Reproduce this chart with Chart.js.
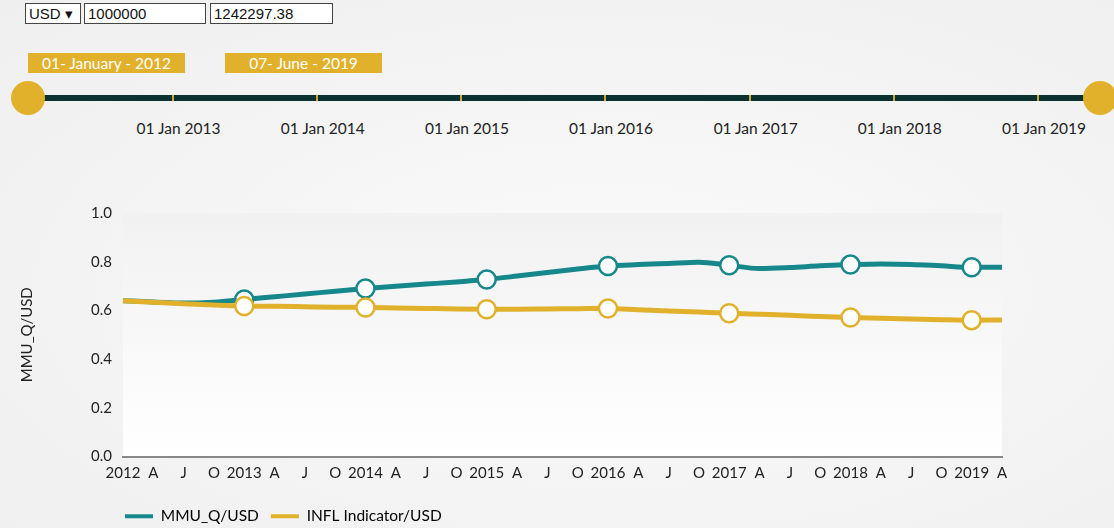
<!DOCTYPE html>
<html>
<head>
<meta charset="utf-8">
<script src="https://cdn.jsdelivr.net/npm/chart.js@4.4.1/dist/chart.umd.min.js"></script>
<style>
  html, body { margin: 0; padding: 0; }
  body {
    width: 1114px; height: 528px; overflow: hidden; position: relative;
    background: radial-gradient(ellipse at 55% 55%, #fbfbfb 0%, #f3f3f3 60%, #efefef 100%);
    font-family: Lato, "Open Sans", sans-serif;
  }
  .ctl { position: absolute; top: 3px; height: 19px; border: 1px solid #444; background: #fff;
         font-family: "Liberation Sans", Arial, sans-serif; font-size: 15px; line-height: 19px;
         color: #111; padding-left: 3px; box-sizing: content-box; }
  .datebox { position: absolute; top: 53px; height: 20px; width: 157px; background: #e2b12b;
             color: #fff; font-size: 15.5px; line-height: 20px; text-align: center; }
  #track { position: absolute; left: 28px; top: 95px; height: 6px; background: #0c3131; }
  .knob { position: absolute; width: 34px; height: 34px; border-radius: 50%; background: #e2b12b; top: 81px; }
  .tl-tick { position: absolute; top: 95px; width: 2px; height: 6px; background: #c9a93a; }
  .tl-label { position: absolute; top: 119px; font-size: 15.5px; color: #222; transform: translateX(-50%); white-space: nowrap; }
  #wrap { position: absolute; left: 0; top: 150px; width: 1114px; height: 378px; }
</style>
</head>
<body>
<div class="ctl" style="left:25px;width:51px;">USD &#9662;</div>
<div class="ctl" style="left:84px;width:117px;">1000000</div>
<div class="ctl" style="left:210px;width:118px;">1242297.38</div>
<div class="datebox" style="left:28px;">01- January - 2012</div>
<div class="datebox" style="left:225px;">07- June - 2019</div>
<div id="timeline"></div>
<div id="wrap"><canvas id="c" width="1114" height="378"></canvas></div>
<script>
// ---- data ----
const quarterLabels = ["2012","A","J","O","2013","A","J","O","2014","A","J","O","2015","A","J","O",
                       "2016","A","J","O","2017","A","J","O","2018","A","J","O","2019","A"];
const mmuValues  = [0.640,0.635,0.630,0.634,0.645,0.656,0.667,0.679,0.690,0.699,0.708,0.717,0.727,0.741,0.756,0.770,
                    0.782,0.788,0.793,0.798,0.785,0.772,0.776,0.783,0.788,0.791,0.789,0.783,0.777,0.777];
const inflValues = [0.640,0.633,0.627,0.622,0.618,0.617,0.615,0.613,0.612,0.610,0.608,0.606,0.605,0.605,0.606,0.607,
                    0.608,0.603,0.598,0.593,0.588,0.584,0.580,0.575,0.571,0.568,0.565,0.562,0.560,0.561];
const seriesNames = ["MMU_Q/USD", "INFL Indicator/USD"];
const seriesColors = ["#16878a", "#e2b12b"];
const yTicks = [0, 0.2, 0.4, 0.6, 0.8, 1.0];
const timelineStart = "2012-01-01";
const timelineEnd = "2019-06-07";
const timelineTicks = ["2013-01-01","2014-01-01","2015-01-01","2016-01-01","2017-01-01","2018-01-01","2019-01-01"];
const timelineTickLabels = ["01 Jan 2013","01 Jan 2014","01 Jan 2015","01 Jan 2016","01 Jan 2017","01 Jan 2018","01 Jan 2019"];

// ---- timeline slider (UI) ----
(function () {
  const tl = document.getElementById('timeline');
  const x0 = 28, x1 = 1100;
  const t0 = Date.parse(timelineStart), t1 = Date.parse(timelineEnd);
  const pos = d => x0 + (Date.parse(d) - t0) / (t1 - t0) * (x1 - x0);
  const track = document.createElement('div');
  track.id = 'track'; track.style.width = (x1 - x0) + 'px'; tl.appendChild(track);
  timelineTicks.forEach((d, i) => {
    const x = pos(d);
    const t = document.createElement('div'); t.className = 'tl-tick'; t.style.left = (x - 1) + 'px'; tl.appendChild(t);
    const l = document.createElement('div'); l.className = 'tl-label'; l.style.left = (x + 6) + 'px';
    l.textContent = timelineTickLabels[i]; tl.appendChild(l);
  });
  [x0, x1].forEach(x => {
    const k = document.createElement('div'); k.className = 'knob'; k.style.left = (x - 17) + 'px'; tl.appendChild(k);
  });
})();

// ---- chart ----
const isYear = l => /^\d{4}$/.test(l);
const radii = quarterLabels.map((l, i) => (isYear(l) && i > 0) ? 9 : 0);

const plotBg = {
  id: 'plotBg',
  beforeDraw(chart) {
    const {ctx, chartArea: a} = chart;
    const g = ctx.createLinearGradient(0, a.top, 0, a.bottom);
    g.addColorStop(0, '#f1f1f1');
    g.addColorStop(1, '#ffffff');
    ctx.save(); ctx.fillStyle = g; ctx.fillRect(a.left, a.top, a.right - a.left, a.bottom - a.top); ctx.restore();
  }
};
const legendShift = {
  id: 'legendShift',
  afterLayout(chart) {
    const L = chart.legend;
    L.left = 113; L.right = L.left + L.width;
    L.top += 6; L.bottom += 6;
  }
};

Chart.defaults.font.family = 'Lato, "Open Sans", sans-serif';
Chart.defaults.font.size = 15;
Chart.defaults.color = '#222';

new Chart(document.getElementById('c'), {
  type: 'line',
  data: {
    labels: quarterLabels,
    datasets: [
      { label: seriesNames[0], data: mmuValues, borderColor: seriesColors[0], backgroundColor: seriesColors[0],
        borderWidth: 5, pointRadius: radii, pointBackgroundColor: '#fff', pointBorderColor: seriesColors[0],
        pointBorderWidth: 2.5, pointHoverRadius: radii, cubicInterpolationMode: 'monotone', order: 1 },
      { label: seriesNames[1], data: inflValues, borderColor: seriesColors[1], backgroundColor: seriesColors[1],
        borderWidth: 5, pointRadius: radii, pointBackgroundColor: '#fff', pointBorderColor: seriesColors[1],
        pointBorderWidth: 2.5, pointHoverRadius: radii, cubicInterpolationMode: 'monotone', order: 0 }
    ]
  },
  options: {
    responsive: false,
    animation: false,
    layout: { padding: { top: 63, right: 112, left: 0, bottom: 0 } },
    plugins: {
      tooltip: { enabled: false },
      legend: {
        position: 'bottom', align: 'start',
        labels: {
          boxWidth: 28, boxHeight: 4, padding: 12, color: '#222', font: { size: 15.5 },
          sort: (a, b) => a.datasetIndex - b.datasetIndex,
          generateLabels: chart => chart.data.datasets.map((ds, i) => ({
            text: ds.label, fillStyle: ds.borderColor, strokeStyle: ds.borderColor, lineWidth: 0,
            datasetIndex: i, hidden: false
          }))
        }
      }
    },
    scales: {
      x: {
        type: 'category', offset: false,
        grid: { display: false, drawTicks: false },
        border: { display: true, color: '#888', width: 2 },
        ticks: { autoSkip: false, maxRotation: 0, padding: 8, color: '#222', font: { size: 15 } }
      },
      y: {
        min: 0, max: 1,
        afterFit(scale) { scale.width = 123; },
        afterBuildTicks(scale) { scale.ticks = yTicks.map(v => ({ value: v })); },
        grid: { display: false, drawTicks: false },
        border: { display: false },
        ticks: { padding: 11, color: '#222', font: { size: 15 }, callback: v => Number(v).toFixed(1) },
        title: { display: true, text: 'MMU_Q/USD', color: '#222', font: { size: 15 }, padding: { top: 18, bottom: 0 } }
      }
    }
  },
  plugins: [plotBg, legendShift]
});
</script>
</body>
</html>
